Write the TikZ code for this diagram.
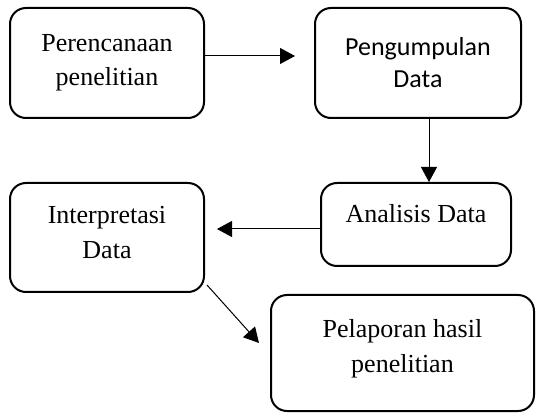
\documentclass[tikz,border=0pt]{standalone}
\usepackage{fontspec}
\setmainfont{Liberation Serif}
\newfontfamily\calfont{Carlito}
\usetikzlibrary{arrows.meta}
\begin{document}
\begin{tikzpicture}[x=1pt,y=-1pt,
  box/.style={draw, line width=2pt, rounded corners=16pt, align=center,
    inner sep=0pt, font=\fontsize{26}{34.5}\selectfont},
  conn/.style={line width=1pt, -{Triangle[length=15pt,width=16pt]}}]
\useasboundingbox (0,0) rectangle (536,414);
\node[box, minimum width=194pt, minimum height=110pt] (b1) at (107,63) {Perencanaan\\penelitian};
\node[box, minimum width=206pt, minimum height=110pt, font=\calfont\fontsize{26}{32}\selectfont] (b2) at (418,63) {Pengumpulan\\Data};
\node[box, minimum width=190pt, minimum height=83pt] (b3) at (416,224.5) {Analisis Data\rule[-22pt]{0pt}{22pt}};
\node[box, minimum width=194pt, minimum height=109pt] (b4) at (107,237.5) {Interpretasi\\Data\rule[-10pt]{0pt}{10pt}};
\node[box, minimum width=263pt, minimum height=116pt] (b5) at (402.5,353) {Pelaporan hasil\\penelitian\rule[-13.6pt]{0pt}{13.6pt}};
\coordinate (a1) at (295,56);
\coordinate (a2) at (429,183);
\coordinate (a3) at (217,229);
\coordinate (a4s) at (207,285);
\coordinate (a4) at (259,343);
\draw[conn] (b1.east |- a1) -- (a1);
\draw[conn] (b2.south -| a2) -- (b3.north -| a2);
\draw[conn] (b3.west |- a3) -- (a3);
\draw[conn] (a4s) -- (a4);
\end{tikzpicture}
\end{document}
